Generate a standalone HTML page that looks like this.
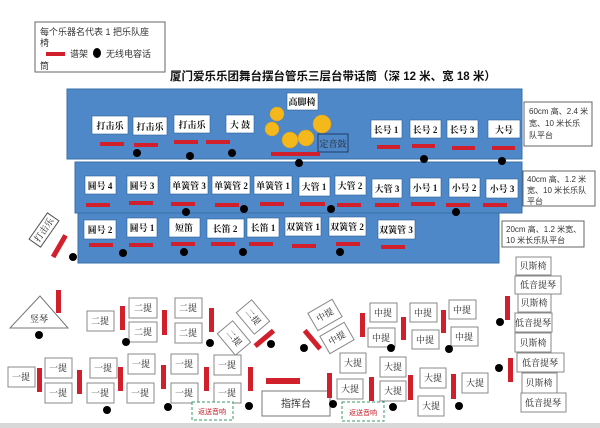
<!DOCTYPE html>
<html><head><meta charset="utf-8"><style>
body{margin:0;background:#fff;}
svg{display:block;}
text{font-family:"Liberation Sans","Noto Sans CJK SC",sans-serif;}
.b{fill:#fff;stroke:#2d5f99;stroke-width:.6;}
.w{fill:#fff;stroke:#888;stroke-width:1;}
.t{font-size:9px;font-weight:bold;fill:#111;text-anchor:middle;font-family:"Liberation Serif","Noto Serif CJK SC",serif;}
.s{font-size:9px;fill:#222;text-anchor:middle;font-family:"Liberation Serif","Noto Serif CJK SC",serif;}
.r{fill:#d11f2b;}
.d{fill:#000;}
.y{fill:#f4b81c;stroke:#e0a010;stroke-width:.5;}
</style></head><body>
<svg width="600" height="428" viewBox="0 0 600 428" xmlns="http://www.w3.org/2000/svg">
<rect width="600" height="428" fill="#fff"/>
<rect x="0" y="423" width="600" height="5" fill="#d8d8d8"/>
<rect x="35" y="22" width="130" height="50" fill="#fff" stroke="#666" stroke-width="1"/>
<text x="40" y="35" font-size="9" fill="#333">每个乐器名代表 1 把乐队座</text>
<text x="40" y="46" font-size="9" fill="#333">椅</text>
<rect x="46" y="52" width="19" height="4" class="r"/>
<text x="70" y="57" font-size="9" fill="#333">谱架</text>
<ellipse cx="97" cy="53" rx="4" ry="5" class="d"/>
<text x="106" y="57" font-size="9" fill="#333">无线电容话</text>
<text x="40" y="69" font-size="9" fill="#333">筒</text>
<text x="170" y="80" font-size="11.5" font-weight="bold" fill="#111" font-family="Liberation Serif,Noto Serif CJK SC,serif">厦门爱乐乐团舞台摆台管乐三层台带话筒（深 12 米、宽 18 米）</text>
<rect x="67" y="89" width="455" height="70" fill="#4f88c8" stroke="#3a6fa8"/>
<rect x="75" y="162" width="447" height="51" fill="#4f88c8" stroke="#3a6fa8"/>
<rect x="78" y="213" width="421" height="50" fill="#4f88c8" stroke="#3a6fa8"/>
<g>
<rect x="92" y="116" width="36" height="18" class="b"/><text x="110" y="129" class="t">打击乐</text>
<rect x="133" y="117" width="34" height="18" class="b"/><text x="150" y="130" class="t">打击乐</text>
<rect x="174" y="115" width="36" height="18" class="b"/><text x="192" y="128" class="t">打击乐</text>
<rect x="226" y="115" width="28" height="18" class="b"/><text x="240" y="128" class="t">大 鼓</text>
<rect x="287" y="93" width="31" height="17" class="b"/><text x="302" y="105" class="t">高脚椅</text>
<circle cx="277" cy="114" r="7" class="y"/><circle cx="272" cy="129" r="7" class="y"/>
<circle cx="290" cy="140" r="8" class="y"/><circle cx="306" cy="138" r="8" class="y"/><circle cx="322" cy="124" r="9" class="y"/>
<rect x="318" y="134" width="30" height="18" fill="#4f88c8" stroke="#1d3d6a"/><text x="333" y="147" class="s" fill="#123">定音鼓</text>
<rect x="271" y="152" width="49" height="4" class="r"/>
<rect x="371" y="120" width="31" height="18" class="b"/><text x="386" y="133" class="t">长号 1</text>
<rect x="410" y="120" width="31" height="18" class="b"/><text x="425" y="133" class="t">长号 2</text>
<rect x="447" y="120" width="31" height="18" class="b"/><text x="462" y="133" class="t">长号 3</text>
<rect x="488" y="120" width="32" height="18" class="b"/><text x="504" y="133" class="t">大号</text>
<rect x="100" y="142" width="24" height="4" class="r"/><rect x="134" y="143" width="24" height="4" class="r"/>
<rect x="174" y="140" width="24" height="4" class="r"/><rect x="206" y="140" width="24" height="4" class="r"/>
<rect x="377" y="145" width="23" height="4" class="r"/><rect x="412" y="144" width="23" height="4" class="r"/>
<rect x="452" y="146" width="23" height="4" class="r"/><rect x="492" y="146" width="23" height="4" class="r"/>
</g>
<g>
<rect x="85" y="176" width="31" height="18" class="b"/><text x="100" y="189" class="t">圆号 4</text>
<rect x="127" y="176" width="31" height="18" class="b"/><text x="142" y="189" class="t">圆号 3</text>
<rect x="170" y="176" width="38" height="18" class="b"/><text x="189" y="189" class="t">单簧管 3</text>
<rect x="212" y="176" width="38" height="18" class="b"/><text x="231" y="189" class="t">单簧管 2</text>
<rect x="254" y="176" width="38" height="18" class="b"/><text x="273" y="189" class="t">单簧管 1</text>
<rect x="299" y="177" width="31" height="19" class="b"/><text x="314" y="190" class="t">大管 1</text>
<rect x="335" y="176" width="31" height="19" class="b"/><text x="350" y="189" class="t">大管 2</text>
<rect x="372" y="179" width="30" height="19" class="b"/><text x="387" y="192" class="t">大管 3</text>
<rect x="410" y="178" width="31" height="19" class="b"/><text x="425" y="191" class="t">小号 1</text>
<rect x="449" y="178" width="31" height="19" class="b"/><text x="464" y="191" class="t">小号 2</text>
<rect x="486" y="179" width="32" height="19" class="b"/><text x="502" y="192" class="t">小号 3</text>
<rect x="86" y="203" width="24" height="4" class="r"/><rect x="129" y="201" width="24" height="4" class="r"/>
<rect x="171" y="202" width="24" height="4" class="r"/><rect x="215" y="203" width="24" height="4" class="r"/>
<rect x="260" y="202" width="24" height="4" class="r"/><rect x="300" y="202" width="25" height="4" class="r"/>
<rect x="337" y="203" width="24" height="4" class="r"/><rect x="375" y="203" width="24" height="4" class="r"/>
<rect x="411" y="202" width="24" height="4" class="r"/><rect x="446" y="203" width="24" height="4" class="r"/>
<rect x="483" y="203" width="24" height="4" class="r"/>
</g>
<g>
<rect x="84" y="220" width="32" height="19" class="b"/><text x="100" y="233" class="t">圆号 2</text>
<rect x="127" y="218" width="30" height="19" class="b"/><text x="142" y="231" class="t">圆号 1</text>
<rect x="169" y="218" width="31" height="19" class="b"/><text x="184" y="231" class="t">短笛</text>
<rect x="207" y="219" width="37" height="19" class="b"/><text x="225" y="232" class="t">长笛 2</text>
<rect x="247" y="218" width="32" height="19" class="b"/><text x="263" y="231" class="t">长笛 1</text>
<rect x="285" y="217" width="36" height="19" class="b"/><text x="303" y="230" class="t">双簧管 1</text>
<rect x="329" y="217" width="37" height="19" class="b"/><text x="347" y="230" class="t">双簧管 2</text>
<rect x="378" y="220" width="37" height="19" class="b"/><text x="396" y="233" class="t">双簧管 3</text>
<rect x="89" y="243" width="24" height="4" class="r"/><rect x="129" y="243" width="24" height="4" class="r"/>
<rect x="171" y="242" width="24" height="4" class="r"/><rect x="211" y="242" width="24" height="4" class="r"/>
<rect x="249" y="242" width="24" height="4" class="r"/><rect x="292" y="244" width="24" height="4" class="r"/>
<rect x="336" y="242" width="24" height="4" class="r"/><rect x="381" y="245" width="24" height="4" class="r"/>
</g>
<g class="d">
<circle cx="137" cy="153" r="4"/><circle cx="190" cy="156" r="4"/><circle cx="232" cy="153" r="4"/>
<circle cx="299" cy="163" r="4"/><circle cx="424" cy="159" r="4"/><circle cx="502" cy="161" r="4"/>
<circle cx="186" cy="212" r="4"/><circle cx="244" cy="209" r="4"/><circle cx="331" cy="209" r="4"/><circle cx="456" cy="212" r="4"/>
<circle cx="73" cy="257" r="4"/><circle cx="123" cy="253" r="4"/><circle cx="184" cy="252" r="4"/><circle cx="243" cy="252" r="4"/><circle cx="340" cy="252" r="4"/>
</g>
<rect x="524" y="102" width="68" height="44" fill="#fff" stroke="#666"/>
<text x="529" y="114" font-size="8" fill="#333">60cm 高、2.4 米</text>
<text x="529" y="126" font-size="8" fill="#333">宽、10 米长乐</text>
<text x="529" y="138" font-size="8" fill="#333">队平台</text>
<rect x="523" y="171" width="72" height="35" fill="#fff" stroke="#666"/>
<text x="527" y="182" font-size="8" fill="#333">40cm 高、1.2 米</text>
<text x="527" y="193" font-size="8" fill="#333">宽、10 米长乐队</text>
<text x="527" y="204" font-size="8" fill="#333">平台</text>
<rect x="502" y="221" width="82" height="26" fill="#fff" stroke="#666"/>
<text x="506" y="232" font-size="8" fill="#333">20cm 高、1.2 米宽、</text>
<text x="506" y="243" font-size="8" fill="#333">10 米长乐队平台</text>
<g transform="translate(44,230) rotate(-55)"><rect x="-16" y="-7" width="32" height="14" fill="#fff" stroke="#555"/><text x="0" y="3" class="s">打击乐</text></g>
<rect x="57" y="234" width="5" height="25" class="r" transform="rotate(30 60 246)"/>
<polygon points="40,296 10,328 68,328" fill="#fff" stroke="#777"/>
<text x="39" y="322" class="s">竖琴</text>
<rect x="56" y="290" width="5" height="23" class="r"/>
<circle cx="39" cy="335" r="4" class="d"/>
<g>
<rect x="87" y="311" width="27" height="20" class="w"/><text x="100" y="324" class="s">二提</text>
<rect x="129" y="298" width="28" height="20" class="w"/><text x="143" y="311" class="s">二提</text>
<rect x="129" y="322" width="28" height="20" class="w"/><text x="143" y="335" class="s">二提</text>
<rect x="175" y="298" width="27" height="20" class="w"/><text x="188" y="311" class="s">二提</text>
<rect x="175" y="323" width="27" height="20" class="w"/><text x="188" y="336" class="s">二提</text>
<rect x="120" y="306" width="5" height="24" class="r"/>
<rect x="162" y="310" width="5" height="25" class="r"/>
<rect x="209" y="308" width="5" height="24" class="r"/>
<g transform="translate(253,317) rotate(50)"><rect x="-14" y="-10" width="28" height="20" class="w"/><text x="0" y="3" class="s">二提</text></g>
<g transform="translate(234,338) rotate(50)"><rect x="-14" y="-10" width="28" height="20" class="w"/><text x="0" y="3" class="s">二提</text></g>
<rect x="262" y="326" width="5" height="24" class="r" transform="rotate(50 264 338)"/>
<circle cx="126" cy="342" r="4" class="d"/><circle cx="210" cy="343" r="4" class="d"/><circle cx="271" cy="344" r="4" class="d"/>
</g>
<g>
<rect x="8" y="367" width="27" height="20" class="w"/><text x="21" y="380" class="s">一提</text>
<rect x="45" y="358" width="27" height="20" class="w"/><text x="58" y="371" class="s">一提</text>
<rect x="45" y="383" width="27" height="20" class="w"/><text x="58" y="396" class="s">一提</text>
<rect x="90" y="358" width="27" height="20" class="w"/><text x="103" y="371" class="s">一提</text>
<rect x="87" y="383" width="27" height="20" class="w"/><text x="100" y="396" class="s">一提</text>
<rect x="128" y="354" width="27" height="20" class="w"/><text x="141" y="367" class="s">一提</text>
<rect x="127" y="383" width="27" height="20" class="w"/><text x="140" y="396" class="s">一提</text>
<rect x="171" y="354" width="27" height="20" class="w"/><text x="184" y="367" class="s">一提</text>
<rect x="171" y="383" width="27" height="20" class="w"/><text x="184" y="396" class="s">一提</text>
<rect x="214" y="355" width="27" height="20" class="w"/><text x="227" y="368" class="s">一提</text>
<rect x="214" y="383" width="27" height="20" class="w"/><text x="227" y="396" class="s">一提</text>
<rect x="37" y="368" width="5" height="24" class="r"/><rect x="77" y="370" width="5" height="24" class="r"/>
<rect x="118" y="367" width="5" height="24" class="r"/><rect x="161" y="365" width="5" height="24" class="r"/>
<rect x="204" y="367" width="5" height="24" class="r"/><rect x="248" y="367" width="5" height="24" class="r"/>
<circle cx="107" cy="410" r="4" class="d"/><circle cx="168" cy="407" r="4" class="d"/><circle cx="249" cy="406" r="4" class="d"/>
</g>
<rect x="192" y="402" width="41" height="18" fill="#fff" stroke="#3a9a6a" stroke-dasharray="3,2"/>
<text x="212" y="414" font-size="7" fill="#c0202a" text-anchor="middle">返送音响</text>
<rect x="266" y="378" width="34" height="6" class="r"/>
<rect x="262" y="391" width="68" height="25" fill="#fff" stroke="#777"/>
<text x="296" y="407" font-size="10" fill="#333" text-anchor="middle">指挥台</text>
<g>
<g transform="translate(325,315) rotate(-30)"><rect x="-14" y="-10" width="28" height="20" class="w"/><text x="0" y="3" class="s">中提</text></g>
<g transform="translate(337,338) rotate(-30)"><rect x="-14" y="-10" width="28" height="20" class="w"/><text x="0" y="3" class="s">中提</text></g>
<rect x="310" y="328" width="5" height="24" class="r" transform="rotate(-40 312 340)"/>
<rect x="370" y="303" width="27" height="19" class="w"/><text x="383" y="316" class="s">中提</text>
<rect x="368" y="328" width="27" height="19" class="w"/><text x="381" y="341" class="s">中提</text>
<rect x="410" y="303" width="27" height="19" class="w"/><text x="423" y="316" class="s">中提</text>
<rect x="412" y="330" width="27" height="19" class="w"/><text x="425" y="343" class="s">中提</text>
<rect x="449" y="300" width="27" height="19" class="w"/><text x="462" y="313" class="s">中提</text>
<rect x="451" y="327" width="27" height="19" class="w"/><text x="464" y="340" class="s">中提</text>
<rect x="360" y="313" width="5" height="24" class="r"/><rect x="401" y="317" width="5" height="23" class="r"/><rect x="441" y="310" width="5" height="23" class="r"/>
<circle cx="304" cy="348" r="4" class="d"/><circle cx="391" cy="348" r="4" class="d"/><circle cx="449" cy="349" r="4" class="d"/>
</g>
<g>
<rect x="340" y="353" width="26" height="20" class="w"/><text x="353" y="366" class="s">大提</text>
<rect x="337" y="379" width="26" height="20" class="w"/><text x="350" y="392" class="s">大提</text>
<rect x="380" y="357" width="26" height="20" class="w"/><text x="393" y="370" class="s">大提</text>
<rect x="380" y="381" width="26" height="20" class="w"/><text x="393" y="394" class="s">大提</text>
<rect x="420" y="368" width="26" height="20" class="w"/><text x="433" y="381" class="s">大提</text>
<rect x="418" y="396" width="26" height="20" class="w"/><text x="431" y="409" class="s">大提</text>
<rect x="462" y="373" width="26" height="20" class="w"/><text x="475" y="386" class="s">大提</text>
<rect x="327" y="373" width="5" height="25" class="r"/><rect x="369" y="377" width="5" height="24" class="r"/>
<rect x="408" y="375" width="5" height="25" class="r"/><rect x="451" y="374" width="5" height="25" class="r"/>
<circle cx="333" cy="404" r="4" class="d"/><circle cx="393" cy="407" r="4" class="d"/><circle cx="459" cy="406" r="4" class="d"/>
</g>
<rect x="342" y="402" width="42" height="19" fill="#fff" stroke="#3a9a6a" stroke-dasharray="3,2"/>
<text x="363" y="415" font-size="7" fill="#c0202a" text-anchor="middle">返送音响</text>
<g>
<rect x="516" y="257" width="35" height="18" class="w"/><text x="533" y="269" class="s">贝斯椅</text>
<rect x="515" y="276" width="46" height="18" class="w"/><text x="538" y="288" class="s">低音提琴</text>
<rect x="518" y="294" width="33" height="18" class="w"/><text x="534" y="306" class="s">贝斯椅</text>
<rect x="515" y="313" width="37" height="19" class="w"/><text x="533" y="326" class="s">低音提琴</text>
<rect x="515" y="333" width="36" height="19" class="w"/><text x="533" y="346" class="s">贝斯椅</text>
<rect x="517" y="353" width="47" height="19" class="w"/><text x="540" y="366" class="s">低音提琴</text>
<rect x="522" y="373" width="35" height="20" class="w"/><text x="539" y="386" class="s">贝斯椅</text>
<rect x="521" y="393" width="45" height="19" class="w"/><text x="543" y="406" class="s">低音提琴</text>
<rect x="505" y="296" width="5" height="24" class="r"/><rect x="508" y="358" width="5" height="24" class="r"/>
<circle cx="500" cy="322" r="4" class="d"/><circle cx="499" cy="368" r="4" class="d"/>
</g>
</svg>
</body></html>
